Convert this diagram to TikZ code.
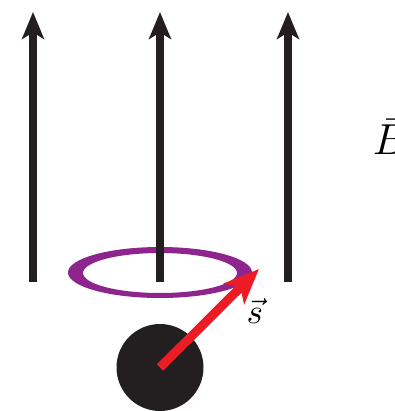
\documentclass[tikz,border=0pt]{standalone}
\usetikzlibrary{arrows.meta}
\definecolor{fieldblack}{RGB}{35,31,32}
\definecolor{spinred}{RGB}{237,28,36}
\definecolor{ringpurple}{RGB}{142,37,141}

\begin{document}
\begin{tikzpicture}[x=0.3pt,y=-0.3pt,
  field/.style={-{Stealth[length=8.1pt,width=6.6pt,inset=2pt]},line width=2.2pt,draw=fieldblack},
  spin/.style={-{Stealth[length=10.5pt,width=8.6pt,inset=2.6pt]},line width=2.7pt,draw=spinred},
  electron/.style={circle,fill=fieldblack,minimum size=26.1pt,inner sep=0pt},
  label/.style={anchor=base west,inner sep=0pt}]
\useasboundingbox (0,0) rectangle (394,411);
\fill[ringpurple,even odd rule] (160,272.5) ellipse [x radius=92,y radius=25.5]
  (160,273) ellipse [x radius=77,y radius=20];
\foreach \x/\name in {33/l,160/m,288/r} {
  \coordinate (\name0) at (\x,282);
  \coordinate (\name1) at (\x,12);
  \draw[field] (\name0)--(\name1);
}
\node[electron] (e) at (160,367.5) {};
\coordinate (stip) at (259,269);
\draw[spin] (e.center)--(stip);
\node[label,scale=1.05] (s) at (246,323) {$\vec{s}$};
\node[label,scale=1.3] (b) at (372,155) {$\bar{B}$};
\end{tikzpicture}
\end{document}
